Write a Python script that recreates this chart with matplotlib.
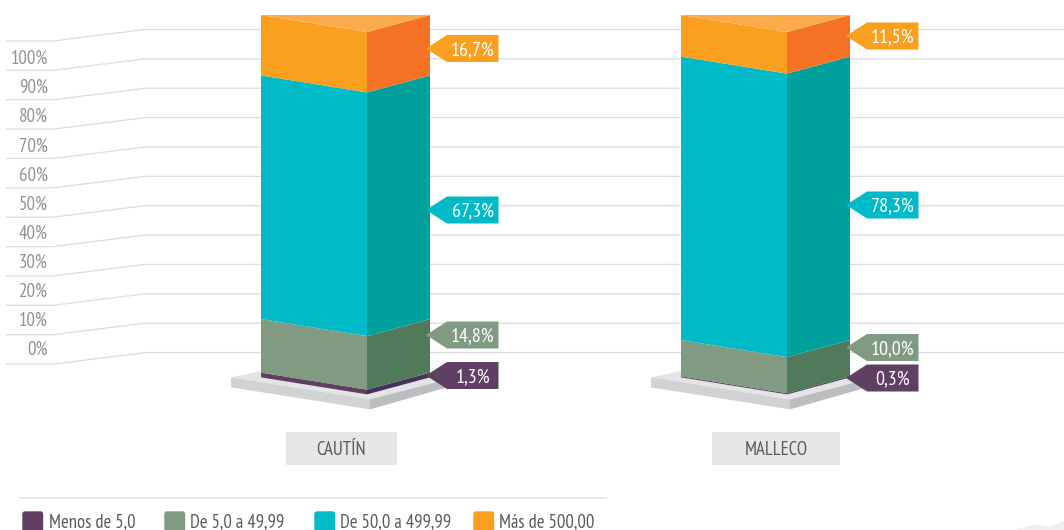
import matplotlib
matplotlib.use("Agg")
import matplotlib.pyplot as plt
from matplotlib.patches import Polygon, FancyBboxPatch, Rectangle
from matplotlib import font_manager as fm

# ---- data ----
categories = ["CAUTÍN", "MALLECO"]
series_names = ["Menos de 5,0", "De 5,0 a 49,99", "De 50,0 a 499,99", "Más de 500,00"]
cautin_values = [1.3, 14.8, 67.3, 16.7]
malleco_values = [0.3, 10.0, 78.3, 11.5]
axis_labels = ["100%", "90%", "80%", "70%", "60%", "50%", "40%", "30%", "20%", "10%", "0%"]

# ---- style / layout ----
front_colors = ["#5F4063", "#819B82", "#00BAC8", "#FB9F1F"]
side_colors = ["#47305A", "#4F7B5B", "#00A19D", "#F57224"]
top_color = "#FBAB4C"
text_grey = "#8F9194"
legend_text = "#58595B"
line_grey = "#DDDEDF"
box_grey = "#E6E7E8"

names = {f.name for f in fm.fontManager.ttflist}
prefs = ["PT Sans Narrow", "Fira Sans Extra Condensed", "Fira Sans Condensed", "Asap Condensed", "Barlow Condensed", "Open Sans"]
chosen = next(p for p in prefs if p in names)
plt.rcParams["font.family"] = [chosen, "DejaVu Sans"]

fig = plt.figure(figsize=(10.64, 5.30), dpi=100)
ax = fig.add_axes([0, 0, 1, 1])
ax.set_xlim(0, 1064)
ax.set_ylim(530, 0)
ax.axis("off")

PX = 0.72
TOP_Y = 15.0
PX_PER_PCT = 3.62
DEPTH = 17.0
GRID_STEP = 29.37

# gridlines (perspective left part, flat right part)
for i in range(12):
    yr = 29.5 + i * GRID_STEP
    yl = yr + 11.5
    ax.plot([6, 53, 145, 1064], [yl, yl, yr, yr], color=line_grey, lw=1.3 * PX, zorder=1,
            solid_joinstyle="round")

# axis labels
for i, lab in enumerate(axis_labels):
    ax.text(48, 59 + i * 29.1, lab, ha="right", va="center", color=text_grey, fontsize=13.5, zorder=2)


def draw_column(x0, values, label_ys, box_x, name):
    xf = x0 + 106
    xr = x0 + 169
    total = sum(values)
    bottom = TOP_Y + total * PX_PER_PCT
    # platform
    px0, px1, px2 = x0 - 30, xf + 3, xr + 17
    pb = bottom
    ax.add_patch(Polygon([(px0, pb), (px1, pb + 22), (px2, pb + 2), (x0 + 40, pb - 15)],
                         fc="#E3E4E5", ec="none", zorder=2))
    ax.add_patch(Polygon([(px0, pb), (px1, pb + 22), (px1, pb + 32), (px0, pb + 10)],
                         fc="#D1D2D4", ec="none", zorder=2))
    ax.add_patch(Polygon([(px1, pb + 22), (px2, pb + 2), (px2, pb + 10), (px1, pb + 32)],
                         fc="#BCBDBF", ec="none", zorder=2))
    # stacked faces, from the bottom of the column upward
    y = bottom
    for v, fc, sc in zip(values, front_colors, side_colors):
        y_next = y - v * PX_PER_PCT
        ax.add_patch(Polygon([(x0, y), (xf, y + DEPTH), (xf, y_next + DEPTH), (x0, y_next)],
                             fc=fc, ec="none", zorder=3))
        ax.add_patch(Polygon([(xf, y + DEPTH), (xr, y), (xr, y_next), (xf, y_next + DEPTH)],
                             fc=sc, ec="none", zorder=3))
        y = y_next
    # top face
    ax.add_patch(Polygon([(x0, y), (xf, y + DEPTH), (xr, y)], fc=top_color, ec="none", zorder=3))
    # callouts
    for v, fc, cy in zip(values, front_colors, label_ys):
        tip = xr - 4
        neck = xr + 17
        right = xr + 68.5
        ax.add_patch(Polygon([(tip, cy), (neck, cy - 13.5), (right, cy - 13.5),
                              (right, cy + 13.5), (neck, cy + 13.5)],
                             fc=fc, ec="none", zorder=4))
        txt = f"{v:.1f}%".replace(".", ",")
        ax.text(xr + 43, cy + 1.5, txt, ha="center", va="center", color="white", fontsize=14.5, zorder=5)
    # category box
    ax.add_patch(Rectangle((box_x[0], 432), box_x[1] - box_x[0], 33, fc=box_grey, ec="none", zorder=2))
    ax.text(sum(box_x) / 2, 450, name, ha="center", va="center", color=legend_text, fontsize=13.5, zorder=3)


draw_column(261, cautin_values, [375.5, 335, 210, 48.5], (285.5, 396.5), categories[0])
draw_column(681, malleco_values, [378, 347.5, 205, 36], (712, 840), categories[1])

# legend
ax.plot([19, 606], [498, 498], color=box_grey, lw=1.6 * PX, zorder=1)
for sx, tx, c, n in zip([22, 164, 314, 473], [49, 190, 340, 499], front_colors, series_names):
    ax.add_patch(FancyBboxPatch((sx + 1, 512), 19.5, 20, boxstyle="round,pad=0,rounding_size=2",
                                fc=c, ec=c, lw=1, zorder=2, clip_on=True))
    ax.text(tx, 522, n, ha="left", va="center", color=legend_text, fontsize=13.4, zorder=2)

# faint smudge in the bottom-right corner
ax.add_patch(Polygon([(1015, 530), (1035, 524), (1050, 527), (1064, 521), (1064, 530)],
                     fc="#EFEFEF", ec="none", zorder=1))

fig.savefig("out.png", dpi=100, facecolor="white")
